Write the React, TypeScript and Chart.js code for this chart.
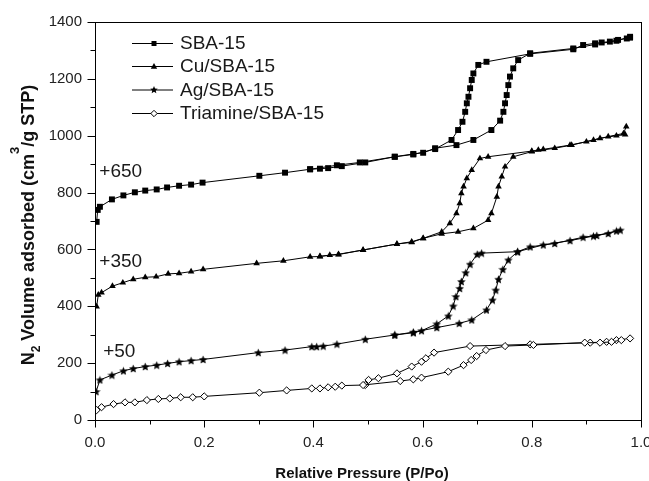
import React, { useEffect, useRef } from 'react';
import { Chart, registerables } from 'chart.js';
Chart.register(...registerables);

// ---------- data (plotted values, offsets already included) ----------
const seriesNames = ['SBA-15', 'Cu/SBA-15', 'Ag/SBA-15', 'Triamine/SBA-15'];
const offsetLabels = ['+650', '+350', '+50'];
const offsetLabelY = [872, 557, 240];

const sbaAdsX = [0.003, 0.005, 0.009, 0.031, 0.052, 0.073, 0.092, 0.113, 0.132, 0.154, 0.176, 0.197, 0.301, 0.348, 0.394, 0.412, 0.427, 0.452, 0.495, 0.549, 0.583, 0.601, 0.623, 0.662, 0.693, 0.726, 0.742, 0.748, 0.751, 0.754, 0.757, 0.760, 0.766, 0.775, 0.797, 0.876, 0.916, 0.955, 0.980];
const sbaAdsY = [697, 739, 750, 776, 790, 801, 807, 811, 818, 824, 828, 835, 859, 870, 882, 884, 886, 893, 906, 926, 936, 940, 956, 967, 985, 1020, 1053, 1084, 1114, 1143, 1178, 1208, 1237, 1266, 1290, 1307, 1321, 1334, 1348];
const sbaDesX = [0.980, 0.974, 0.958, 0.943, 0.928, 0.916, 0.894, 0.876, 0.797, 0.717, 0.702, 0.693, 0.690, 0.687, 0.684, 0.681, 0.678, 0.673, 0.665, 0.653, 0.623, 0.583, 0.549, 0.485, 0.443, 0.394];
const sbaDesY = [1345, 1342, 1337, 1331, 1328, 1325, 1319, 1304, 1288, 1260, 1249, 1219, 1196, 1167, 1137, 1114, 1084, 1049, 1020, 985, 953, 934, 926, 906, 896, 882];

const cuAdsX = [0.003, 0.006, 0.012, 0.032, 0.051, 0.070, 0.092, 0.112, 0.134, 0.154, 0.176, 0.198, 0.296, 0.345, 0.394, 0.412, 0.430, 0.446, 0.491, 0.553, 0.580, 0.601, 0.635, 0.665, 0.693, 0.720, 0.726, 0.736, 0.739, 0.745, 0.751, 0.766, 0.800, 0.842, 0.873, 0.913, 0.940, 0.968, 0.973];
const cuAdsY = [399, 440, 448, 471, 483, 495, 502, 504, 514, 516, 522, 530, 551, 560, 574, 575, 580, 582, 598, 619, 625, 639, 655, 662, 674, 703, 727, 785, 821, 856, 891, 926, 944, 956, 967, 985, 997, 1008, 1032];
const cuDesX = [0.971, 0.955, 0.925, 0.900, 0.870, 0.821, 0.812, 0.800, 0.720, 0.705, 0.690, 0.681, 0.675, 0.671, 0.668, 0.662, 0.650, 0.635, 0.601, 0.580, 0.553, 0.491, 0.446, 0.412];
const cuDesY = [1004, 1000, 991, 979, 967, 952, 950, 946, 926, 920, 879, 850, 821, 797, 762, 727, 692, 662, 639, 627, 619, 598, 583, 576];

const agAdsX = [0.002, 0.009, 0.031, 0.052, 0.070, 0.092, 0.113, 0.133, 0.154, 0.176, 0.198, 0.299, 0.348, 0.397, 0.406, 0.418, 0.443, 0.495, 0.549, 0.583, 0.626, 0.667, 0.690, 0.717, 0.728, 0.734, 0.739, 0.747, 0.757, 0.774, 0.797, 0.842, 0.894, 0.919, 0.955];
const agAdsY = [100, 141, 158, 173, 181, 188, 193, 199, 205, 209, 213, 237, 246, 258, 258, 260, 267, 284, 299, 309, 325, 340, 352, 387, 422, 457, 495, 530, 563, 592, 609, 621, 643, 649, 665];
const agDesX = [0.962, 0.940, 0.913, 0.870, 0.821, 0.774, 0.708, 0.700, 0.687, 0.679, 0.671, 0.668, 0.661, 0.656, 0.647, 0.626, 0.598, 0.583, 0.549];
const agDesY = [668, 656, 647, 631, 616, 592, 587, 583, 548, 518, 487, 463, 434, 401, 366, 338, 314, 307, 299];

const triAdsX = [0.003, 0.012, 0.034, 0.055, 0.073, 0.095, 0.116, 0.137, 0.157, 0.179, 0.200, 0.301, 0.351, 0.397, 0.412, 0.427, 0.440, 0.452, 0.491, 0.559, 0.583, 0.598, 0.647, 0.675, 0.689, 0.699, 0.716, 0.751, 0.803, 0.897, 0.925, 0.946, 0.964];
const triAdsY = [35, 45, 56, 62, 62, 70, 74, 76, 80, 80, 83, 96, 104, 111, 111, 115, 117, 121, 123, 137, 143, 149, 170, 193, 211, 225, 246, 260, 264, 272, 272, 275, 281];
const triDesX = [0.980, 0.955, 0.937, 0.907, 0.797, 0.687, 0.621, 0.606, 0.598, 0.580, 0.553, 0.519, 0.501, 0.495];
const triDesY = [287, 281, 275, 272, 266, 260, 237, 217, 205, 188, 164, 147, 141, 123];

const xTickLabels = ['0.0', '0.2', '0.4', '0.6', '0.8', '1.0'];
const yTickLabels = ['0', '200', '400', '600', '800', '1000', '1200', '1400'];

// ---------- helpers ----------
const pts = (xs: number[], ys: number[]) => xs.map((x, i) => ({ x, y: ys[i] }));

function makeStar(size: number) {
  const c = document.createElement('canvas');
  c.width = size;
  c.height = size;
  const g = c.getContext('2d')!;
  g.fillStyle = '#000';
  g.beginPath();
  const cx = size / 2, cy = size / 2 + 0.4, R = size / 2, r = R * 0.45;
  for (let i = 0; i < 10; i++) {
    const a = -Math.PI / 2 + (i * Math.PI) / 5;
    const rr = i % 2 === 0 ? R : r;
    g.lineTo(cx + rr * Math.cos(a), cy + rr * Math.sin(a));
  }
  g.closePath();
  g.fill();
  return c;
}

function drawMarker(ctx: CanvasRenderingContext2D, kind: number, x: number, y: number) {
  ctx.save();
  ctx.fillStyle = '#000';
  ctx.strokeStyle = '#000';
  ctx.lineWidth = 1;
  ctx.beginPath();
  if (kind === 0) {
    ctx.rect(x - 2.5, y - 2.5, 5, 5);
    ctx.fill();
  } else if (kind === 1) {
    ctx.moveTo(x, y - 3.5);
    ctx.lineTo(x + 3.2, y + 2.3);
    ctx.lineTo(x - 3.2, y + 2.3);
    ctx.closePath();
    ctx.fill();
  } else if (kind === 2) {
    const R = 4, r = 1.8;
    for (let i = 0; i < 10; i++) {
      const a = -Math.PI / 2 + (i * Math.PI) / 5;
      const rr = i % 2 === 0 ? R : r;
      ctx.lineTo(x + rr * Math.cos(a), y + rr * Math.sin(a));
    }
    ctx.closePath();
    ctx.fill();
  } else {
    ctx.moveTo(x, y - 3.2);
    ctx.lineTo(x + 3.2, y);
    ctx.lineTo(x, y + 3.2);
    ctx.lineTo(x - 3.2, y);
    ctx.closePath();
    ctx.fillStyle = '#fff';
    ctx.fill();
    ctx.stroke();
  }
  ctx.restore();
}

const decorPlugin = {
  id: 'decor',
  afterDraw(chart: any) {
    const { ctx, chartArea, scales } = chart;
    const { left, right, top, bottom } = chartArea;
    const xs = scales.x, ys = scales.y;
    ctx.save();
    // frame
    ctx.strokeStyle = '#000';
    ctx.lineWidth = 1;
    ctx.strokeRect(Math.round(left) + 0.5, Math.round(top) + 0.5, Math.round(right - left), Math.round(bottom - top));
    // y ticks
    ctx.beginPath();
    for (let v = 0; v <= 1400; v += 100) {
      const py = Math.round(ys.getPixelForValue(v)) + 0.5;
      const len = v % 200 === 0 ? 8 : 5;
      ctx.moveTo(Math.round(left) + 0.5 - len, py);
      ctx.lineTo(Math.round(left) + 0.5, py);
    }
    // x ticks
    for (let i = 0; i <= 10; i++) {
      const px = Math.round(xs.getPixelForValue(i / 10)) + 0.5;
      const len = i % 2 === 0 ? 7 : 4;
      ctx.moveTo(px, Math.round(bottom) + 0.5);
      ctx.lineTo(px, Math.round(bottom) + 0.5 + len);
    }
    ctx.stroke();

    // offset annotations
    ctx.fillStyle = '#1a1a1a';
    ctx.font = '19px Arial, "Liberation Sans", sans-serif';
    ctx.textBaseline = 'middle';
    ctx.textAlign = 'left';
    offsetLabels.forEach((t, i) => {
      const px = xs.getPixelForValue(i === 2 ? 0.015 : 0.008);
      ctx.fillText(t, px, ys.getPixelForValue(offsetLabelY[i]));
    });

    // legend
    const rowY = [43, 66, 89.5, 113];
    seriesNames.forEach((name, i) => {
      const y = rowY[i];
      ctx.beginPath();
      ctx.moveTo(132, y + 0.5);
      ctx.lineTo(173, y + 0.5);
      ctx.strokeStyle = '#000';
      ctx.lineWidth = 1;
      ctx.stroke();
      drawMarker(ctx, i, 154, y + 0.5);
      ctx.fillStyle = '#1a1a1a';
      ctx.font = '19px Arial, "Liberation Sans", sans-serif';
      ctx.textBaseline = 'middle';
      ctx.textAlign = 'left';
      ctx.fillText(name, 180, y + 1);
    });

    // x title
    ctx.fillStyle = '#111';
    ctx.font = 'bold 15px Arial, "Liberation Sans", sans-serif';
    ctx.textAlign = 'center';
    ctx.textBaseline = 'alphabetic';
    ctx.fillText('Relative Pressure (P/Po)', 362, 478);

    // y title with sub/superscript
    const parts = [
      { t: 'N', f: 'bold 18px Arial, "Liberation Sans", sans-serif', b: 34 },
      { t: '2', f: 'bold 12px Arial, "Liberation Sans", sans-serif', b: 40 },
      { t: ' Volume adsorbed (cm', f: 'bold 18px Arial, "Liberation Sans", sans-serif', b: 34 },
      { t: '3', f: 'bold 13px Arial, "Liberation Sans", sans-serif', b: 19 },
      { t: '/g STP)', f: 'bold 18px Arial, "Liberation Sans", sans-serif', b: 34 },
    ];
    let total = 0;
    const widths = parts.map((p) => {
      ctx.font = p.f;
      const w = ctx.measureText(p.t).width;
      total += w;
      return w;
    });
    ctx.translate(0, 225);
    ctx.rotate(-Math.PI / 2);
    ctx.textAlign = 'left';
    let u = -total / 2;
    parts.forEach((p, i) => {
      ctx.font = p.f;
      ctx.fillText(p.t, u, p.b);
      u += widths[i];
    });
    ctx.restore();
  },
};

export default function App() {
  const ref = useRef<HTMLCanvasElement>(null);
  useEffect(() => {
    document.body.style.margin = '0';
    const star = makeStar(9);
    const base = {
      showLine: true,
      borderColor: '#000',
      borderWidth: 1,
      tension: 0,
      pointBorderColor: '#000',
      pointBackgroundColor: '#000',
    };
    const sq = { ...base, pointStyle: 'rect', pointRadius: 4.2, pointBorderWidth: 0 };
    const tri = { ...base, pointStyle: 'triangle', pointRadius: 3.8, pointBorderWidth: 0 };
    const st = { ...base, pointStyle: star, pointRadius: 4.5, pointBorderWidth: 0 };
    const dia = { ...base, pointStyle: 'rectRot', pointRadius: 3.6, pointBorderWidth: 1, pointBackgroundColor: '#fff' };
    const chart = new Chart(ref.current!, {
      type: 'scatter',
      data: {
        datasets: [
          { label: seriesNames[3] + ' ads', data: pts(triAdsX, triAdsY), ...dia },
          { label: seriesNames[3] + ' des', data: pts(triDesX, triDesY), ...dia },
          { label: seriesNames[2] + ' ads', data: pts(agAdsX, agAdsY), ...st },
          { label: seriesNames[2] + ' des', data: pts(agDesX, agDesY), ...st },
          { label: seriesNames[1] + ' ads', data: pts(cuAdsX, cuAdsY), ...tri },
          { label: seriesNames[1] + ' des', data: pts(cuDesX, cuDesY), ...tri },
          { label: seriesNames[0] + ' ads', data: pts(sbaAdsX, sbaAdsY), ...sq },
          { label: seriesNames[0] + ' des', data: pts(sbaDesX, sbaDesY), ...sq },
        ] as any,
      },
      options: {
        animation: false,
        responsive: false,
        devicePixelRatio: 1,
        layout: { padding: { top: 22, right: 8, left: 0, bottom: 0 } },
        plugins: { legend: { display: false }, tooltip: { enabled: false } },
        scales: {
          x: {
            type: 'linear',
            min: 0,
            max: 1,
            grid: { display: false, drawTicks: false },
            border: { display: false },
            ticks: {
              stepSize: 0.2,
              padding: 14,
              color: '#222',
              font: { family: 'Arial, "Liberation Sans", sans-serif', size: 15 },
              callback: (v: any) => xTickLabels[Math.round(Number(v) * 5)] ?? '',
            },
            afterFit: (s: any) => { s.height = 61; s.paddingLeft = 0; s.paddingRight = 0; },
          },
          y: {
            type: 'linear',
            min: 0,
            max: 1400,
            grid: { display: false, drawTicks: false },
            border: { display: false },
            ticks: {
              stepSize: 200,
              padding: 13,
              color: '#222',
              font: { family: 'Arial, "Liberation Sans", sans-serif', size: 15 },
              callback: (v: any) => yTickLabels[Math.round(Number(v) / 200)] ?? '',
            },
            afterFit: (s: any) => { s.width = 95; s.paddingTop = 0; s.paddingBottom = 0; },
          },
        },
      } as any,
      plugins: [decorPlugin],
    });
    return () => chart.destroy();
  }, []);
  return <canvas ref={ref} width={649} height={481} style={{ display: 'block', width: 649, height: 481 }} />;
}
